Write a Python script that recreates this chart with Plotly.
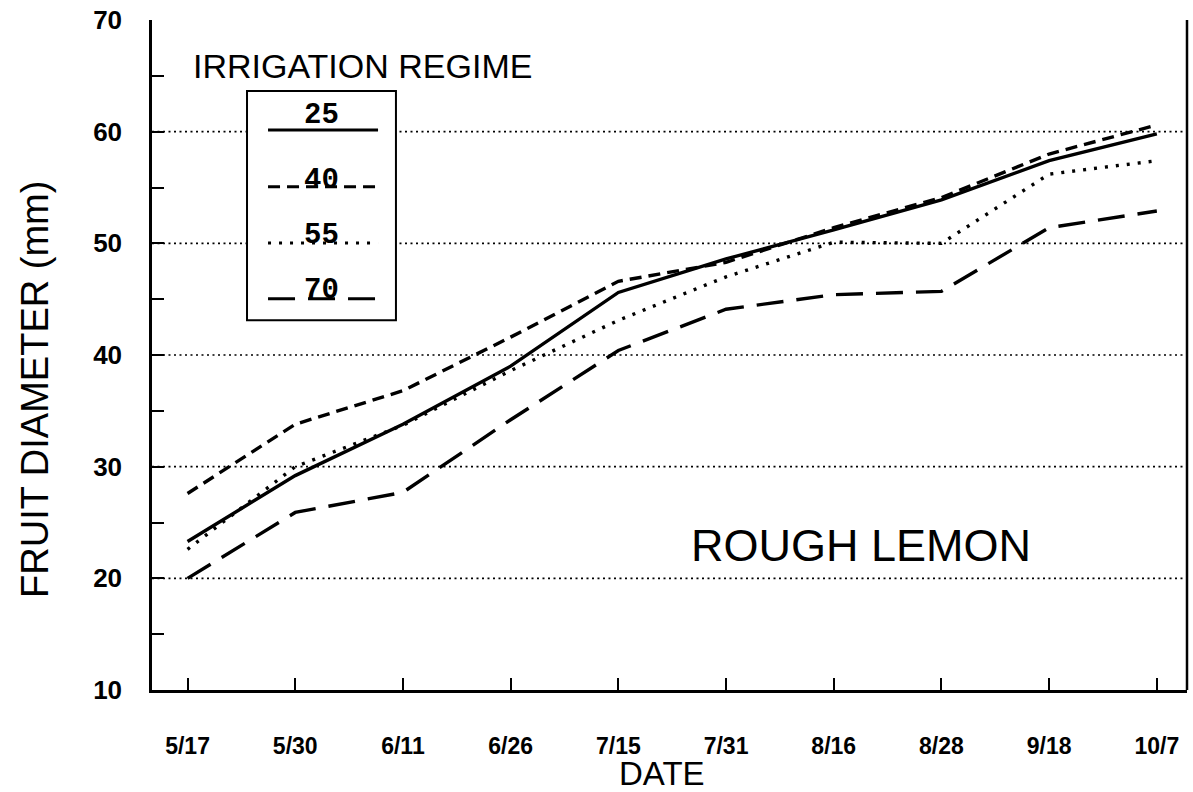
import plotly.graph_objects as go

# ---- data ----
dates = ["5/17", "5/30", "6/11", "6/26", "7/15", "7/31", "8/16", "8/28", "9/18", "10/7"]
regime_25 = [23.3, 29.2, 33.8, 39.0, 45.6, 48.6, 51.2, 53.9, 57.4, 59.8]
regime_40 = [27.6, 33.8, 36.8, 41.6, 46.6, 48.3, 51.4, 54.1, 58.0, 60.6]
regime_55 = [22.6, 30.0, 33.7, 38.6, 43.1, 47.0, 50.1, 50.0, 56.2, 57.4]
regime_70 = [20.0, 25.9, 27.7, 34.2, 40.4, 44.1, 45.4, 45.7, 51.4, 52.9]
series_names = ["25", "40", "55", "70"]
y_ticks = [10, 20, 30, 40, 50, 60, 70]
grid_values = [20, 30, 40, 50, 60]

# ---- styles ----
dashes = ["solid", "12px,7px", "3px,8px", "27px,13px"]
series = [regime_25, regime_40, regime_55, regime_70]
SANS = "Liberation Sans, Arial, sans-serif"
MONO = "Liberation Mono, Courier New, monospace"

fig = go.Figure()
for name, vals, dash in zip(series_names, series, dashes):
    fig.add_trace(go.Scatter(
        x=dates, y=vals, mode="lines", name=name,
        line=dict(color="black", width=3.4, dash=dash),
        showlegend=False,
    ))

shapes = []
# dotted gridlines (no line at the top edge)
for gv in grid_values:
    shapes.append(dict(type="line", xref="paper", yref="y", x0=0, x1=1, y0=gv, y1=gv,
                       line=dict(color="black", width=1.6, dash="2px,3.5px"), layer="below"))
# right border
shapes.append(dict(type="line", xref="paper", yref="paper", x0=1, x1=1, y0=0, y1=1,
                   line=dict(color="black", width=2.5)))

# legend box
shapes.append(dict(type="rect", xref="paper", yref="paper", x0=0.0918, x1=0.2357, y0=0.552, y1=0.894,
                   line=dict(color="black", width=2), fillcolor="white", layer="above"))
leg_y = [0.836, 0.751, 0.667, 0.584]
lbl_y = [0.857, 0.761, 0.679, 0.597]
for dash, ly in zip(dashes, leg_y):
    shapes.append(dict(type="line", xref="paper", yref="paper", x0=0.1121, x1=0.2184,
                       y0=ly, y1=ly, line=dict(color="black", width=3, dash=dash), layer="above"))

annotations = []
for name, ty in zip(series_names, lbl_y):
    annotations.append(dict(xref="paper", yref="paper", x=0.164, y=ty, text="<b>%s</b>" % name,
                            showarrow=False, font=dict(family=MONO, size=29, color="black"),
                            xanchor="center", yanchor="middle"))
annotations += [
    dict(xref="paper", yref="paper", x=0.203, y=0.931, text="IRRIGATION REGIME", showarrow=False,
         font=dict(family=SANS, size=34, color="black"), xanchor="center", yanchor="middle"),
    dict(xref="paper", yref="paper", x=0.685, y=0.216, text="ROUGH LEMON", showarrow=False,
         font=dict(family=SANS, size=45, color="black"), xanchor="center", yanchor="middle"),
    dict(xref="paper", yref="paper", x=-0.113, y=0.448, text="FRUIT DIAMETER (mm)", showarrow=False,
         textangle=-90, font=dict(family=SANS, size=38, color="black"),
         xanchor="center", yanchor="middle"),
    dict(xref="paper", yref="paper", x=0.493, y=-0.124, text="DATE", showarrow=False,
         font=dict(family=SANS, size=33, color="black"), xanchor="center", yanchor="middle"),
]

fig.update_layout(
    width=1193, height=792,
    margin=dict(l=152, r=6, t=20, b=102),
    paper_bgcolor="white", plot_bgcolor="white",
    shapes=shapes, annotations=annotations,
    xaxis=dict(
        type="category", categoryorder="array", categoryarray=dates,
        range=[-0.33, 9.28], showgrid=False, zeroline=False,
        showline=True, linecolor="black", linewidth=2.5,
        ticks="inside", ticklen=12, tickwidth=2, tickcolor="black",
        tickfont=dict(family=SANS, size=23, color="black", weight="bold"),
        ticklabelstandoff=34,
    ),
    yaxis=dict(
        range=[10, 70], tickvals=y_ticks, showgrid=False, zeroline=False,
        showline=True, linecolor="black", linewidth=2.5,
        ticks="inside", ticklen=12, tickwidth=2, tickcolor="black",
        tickfont=dict(family=SANS, size=26, color="black", weight="bold"),
        ticklabelstandoff=22,
        minor=dict(dtick=5, tick0=5, ticks="inside", ticklen=12, tickwidth=2, tickcolor="black",
                   showgrid=False),
    ),
)

fig.write_html("out.html", config={"displayModeBar": False},
               post_script="document.body.style.margin='0px';")
